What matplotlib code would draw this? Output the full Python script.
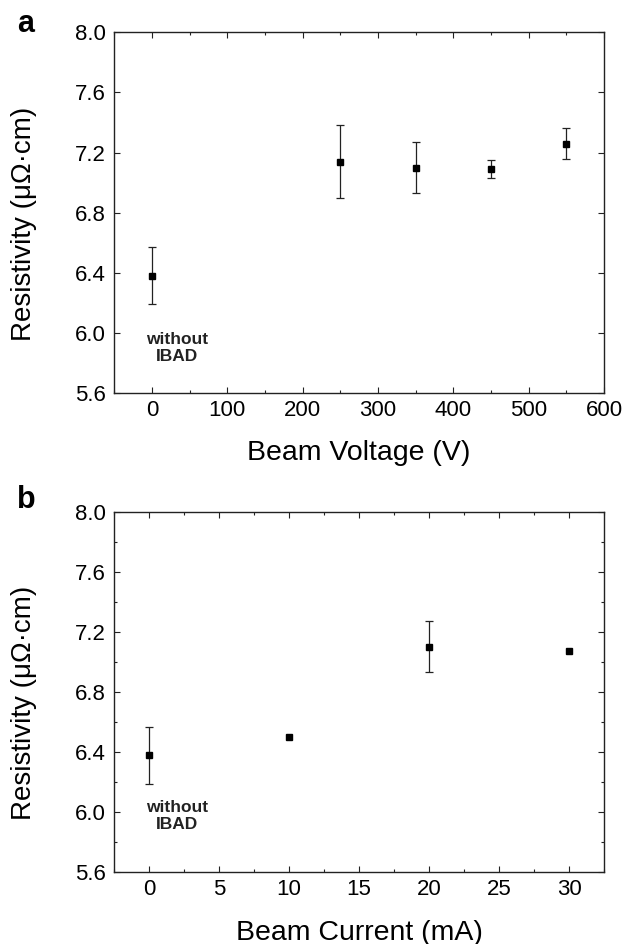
# Resistivity vs. IBAD beam voltage / beam current

import numpy as np
import matplotlib.pyplot as plt
from matplotlib.ticker import MultipleLocator

plt.rcParams['font.family'] = ['Liberation Sans', 'DejaVu Sans']

# panel a: beam voltage
voltage = [0, 250, 350, 450, 550]
res_v = [6.38, 7.14, 7.10, 7.09, 7.26]
err_v = [0.19, 0.245, 0.17, 0.06, 0.10]

# panel b: beam current
current = [0, 10, 20, 30]
res_c = [6.38, 6.50, 7.10, 7.07]
err_c = [0.19, 0.0, 0.17, 0.0]

ylabel = 'Resistivity (\u03bc\u03a9\u00b7cm)'
note = 'without\nIBAD'

fig = plt.figure(figsize=(6.37, 9.44), dpi=100)
ax1 = fig.add_axes([0.1794, 0.5837, 0.7688, 0.3821])
ax2 = fig.add_axes([0.1794, 0.0760, 0.7688, 0.3820])


def style(ax, xmaj, xmin, ymin=None):
    ax.set_ylim(5.6, 8.0)
    ax.yaxis.set_major_locator(MultipleLocator(0.4))
    ax.xaxis.set_major_locator(MultipleLocator(xmaj))
    ax.xaxis.set_minor_locator(MultipleLocator(xmin))
    if ymin:
        ax.yaxis.set_minor_locator(MultipleLocator(ymin))
    ax.tick_params(which='both', direction='in', top=True, right=True,
                   width=0.8, labelsize=16, color='#222222')
    ax.tick_params(which='major', length=4.5)
    ax.tick_params(which='minor', length=2.5)
    ax.tick_params(axis='y', pad=6)
    ax.tick_params(axis='x', pad=5)
    ax.yaxis.set_major_formatter(plt.FormatStrFormatter('%.1f'))
    for sp in ax.spines.values():
        sp.set_linewidth(1.0)
        sp.set_color('#222222')
    ax.set_ylabel(ylabel, fontsize=20)
    ax.yaxis.set_label_coords(-0.158, 0.47)


def draw(ax, x, y, e):
    x = np.array(x)
    y = np.array(y)
    e = np.array(e)
    m = e > 0
    ax.errorbar(x[m], y[m], yerr=e[m], fmt='none', ecolor='#222222',
                elinewidth=0.9, capsize=2.8, capthick=0.9)
    ax.plot(x, y, 's', color='black', markersize=4.8, zorder=3)


draw(ax1, voltage, res_v, err_v)
style(ax1, 100, 50)
ax1.set_xlim(-50, 600)
ax1.set_xlabel('Beam Voltage (V)', fontsize=20.5, labelpad=14)
ax1.text(33, 5.9, note, ha='center', va='center', fontsize=12.5,
         fontweight='bold', linespacing=1.15, color='#222222')

draw(ax2, current, res_c, err_c)
style(ax2, 5, 2.5, 0.2)
ax2.set_xlim(-2.5, 32.5)
ax2.set_xlabel('Beam Current (mA)', fontsize=20.5, labelpad=14)
ax2.text(1.96, 5.975, note, ha='center', va='center', fontsize=12.5,
         fontweight='bold', linespacing=1.15, color='#222222')

fig.text(0.027, 0.975, 'a', fontsize=22, fontweight='bold', va='center')
fig.text(0.027, 0.470, 'b', fontsize=22, fontweight='bold', va='center')

fig.savefig('out.png', dpi=100)
